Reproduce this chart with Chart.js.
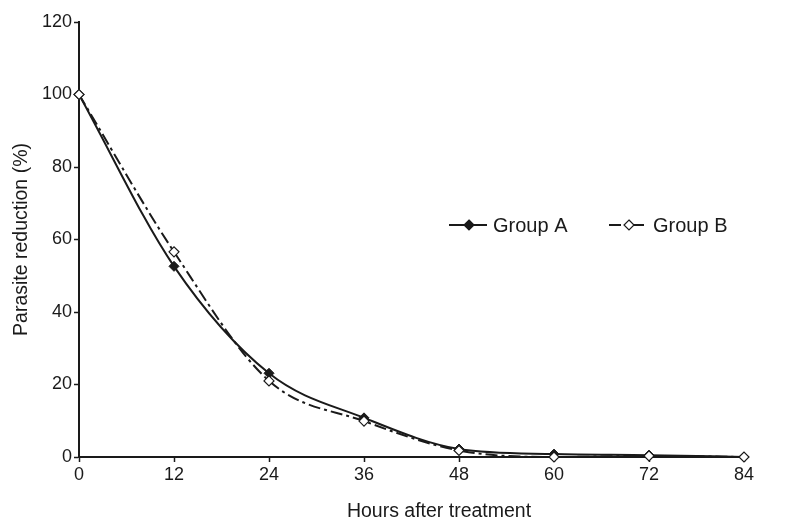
<!DOCTYPE html>
<html>
<head>
<meta charset="utf-8">
<script src="https://cdn.jsdelivr.net/npm/chart.js@4/dist/chart.umd.min.js"></script>
<style>
  html, body { margin: 0; padding: 0; background: #fff; }
  #wrap { width: 800px; height: 532px; }
</style>
</head>
<body>
<div id="wrap"><canvas id="chart" width="800" height="532"></canvas></div>
<script>
// hours after treatment
const hours = [0, 12, 24, 36, 48, 60, 72, 84];
// parasite reduction (%)
const groupA = [100, 52.6, 23.1, 10.8, 2.2, 0.8, 0.5, 0];
const groupB = [100, 56.6, 21.0, 9.9, 1.8, 0, 0.3, 0];
const yTicks = [0, 20, 40, 60, 80, 100, 120];
const xTicks = hours;

const font = 'Arial, "Liberation Sans", sans-serif';
const ink = '#1a1a1a';

// legend drawn by hand: line + marker + label, like the original
// x title drawn here too, it sits off-centre in the original
const legendPlugin = {
    id: 'lineLegend',
    afterDraw(chart) {
        const ctx = chart.ctx;
        const items = [
            { label: 'Group A', dash: [], fill: ink, x: 449 },
            { label: 'Group B', dash: [12, 4, 3, 4], fill: '#fff', x: 609 }
        ];
        const y = 225;
        ctx.save();
        items.forEach(it => {
            ctx.strokeStyle = ink;
            ctx.lineWidth = 2;
            ctx.setLineDash(it.dash);
            ctx.beginPath();
            ctx.moveTo(it.x, y);
            ctx.lineTo(it.x + 38, y);
            ctx.stroke();
            ctx.setLineDash([]);
            const cx = it.x + 20;
            ctx.beginPath();
            ctx.moveTo(cx, y - 5);
            ctx.lineTo(cx + 5, y);
            ctx.lineTo(cx, y + 5);
            ctx.lineTo(cx - 5, y);
            ctx.closePath();
            ctx.fillStyle = it.fill;
            ctx.fill();
            ctx.lineWidth = 1.2;
            ctx.stroke();
            ctx.fillStyle = ink;
            ctx.font = '20px ' + font;
            ctx.textBaseline = 'middle';
            ctx.fillText(it.label, it.x + 44, y + 1);
        });

        ctx.font = '19.5px ' + font;
        ctx.textAlign = 'center';
        ctx.textBaseline = 'middle';
        ctx.fillText('Hours after treatment', 439, 512);
        ctx.restore();
    }
};

new Chart(document.getElementById('chart'), {
    type: 'line',
    data: {
        labels: hours,
        datasets: [
            {
                label: 'Group B',
                data: hours.map((h, i) => ({ x: h, y: groupB[i] })),
                borderColor: ink,
                borderWidth: 2,
                borderDash: [12, 4, 3, 4],
                pointStyle: 'rectRot',
                pointRadius: 5,
                pointBackgroundColor: '#fff',
                pointBorderColor: ink,
                pointBorderWidth: 1.2,
                cubicInterpolationMode: 'monotone',
                clip: false,
                order: 1
            },
            {
                label: 'Group A',
                data: hours.map((h, i) => ({ x: h, y: groupA[i] })),
                borderColor: ink,
                borderWidth: 2,
                pointStyle: 'rectRot',
                pointRadius: 5,
                pointBackgroundColor: ink,
                pointBorderColor: ink,
                pointBorderWidth: 1,
                cubicInterpolationMode: 'monotone',
                clip: false,
                order: 2
            }
        ]
    },
    options: {
        responsive: false,
        animation: false,
        layout: { padding: { top: 22, right: 56, left: 10, bottom: 8 } },
        plugins: {
            legend: { display: false },
            tooltip: { enabled: false }
        },
        scales: {
            x: {
                type: 'linear',
                min: 0,
                max: 84,
                afterBuildTicks(axis) { axis.ticks = xTicks.map(v => ({ value: v })); },
                afterFit(axis) { axis.height = 67; },
                grid: { drawOnChartArea: false, tickLength: 5, color: ink, tickWidth: 1.5 },
                border: { color: ink, width: 2 },
                ticks: { color: ink, font: { family: font, size: 18 }, padding: 2, maxRotation: 0 },
                title: { display: false }
            },
            y: {
                min: 0,
                max: 120,
                afterBuildTicks(axis) { axis.ticks = yTicks.map(v => ({ value: v })); },
                afterFit(axis) { axis.width = 69; },
                grid: { drawOnChartArea: false, tickLength: 5, color: ink, tickWidth: 1.5 },
                border: { color: ink, width: 2 },
                ticks: { color: ink, font: { family: font, size: 18 }, padding: 2 },
                title: {
                    display: true,
                    text: 'Parasite reduction (%)',
                    color: ink,
                    font: { family: font, size: 19.5 },
                    padding: { top: 0, bottom: 4 }
                }
            }
        }
    },
    plugins: [legendPlugin]
});
</script>
</body>
</html>
